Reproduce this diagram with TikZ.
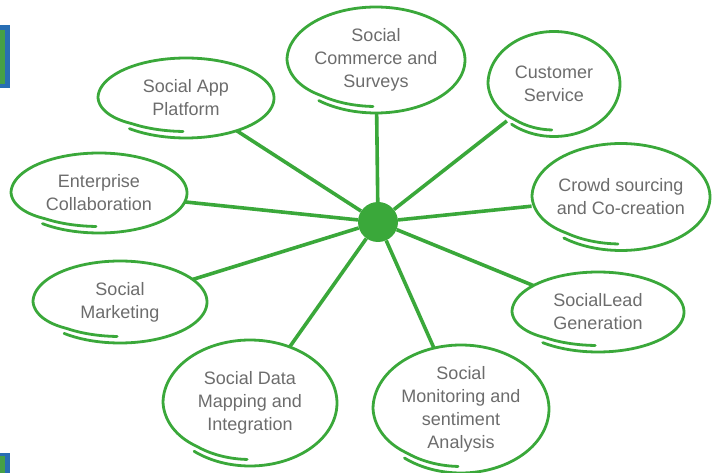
\documentclass[tikz,border=0pt]{standalone}
\usepackage{fontspec}
\setmainfont{Liberation Sans}
\usetikzlibrary{shapes.geometric}
\definecolor{leaf}{RGB}{58,168,58}
\definecolor{inkgray}{RGB}{108,108,108}
\definecolor{edgeblue}{RGB}{40,110,180}
\definecolor{edgegreen}{RGB}{70,160,70}

% hand-drawn ring round a node: #1 node, #2 x radius, #3 y radius
\newcommand\ringat[3]{%
  \draw[ring,shift={(#1.center)}] plot[domain=130:-268,samples=140,variable=\t]
    ({(#2-4*min(1,max(0,(-180-\t)/50)))*cos(\t)},
     {(#3-6.5*min(1,max(0,(-180-\t)/50)))*sin(\t)});}

\begin{document}
\begin{tikzpicture}
  [x=1pt,y=-1pt,
   every node/.style={ellipse,draw=none,inner sep=0pt,align=center,
     text=inkgray,font=\fontsize{18}{23}\selectfont},
   spoke/.style={draw=leaf,line width=3.6pt},
   ring/.style={draw=leaf,line width=2.8pt,line cap=round,line join=round}]
  \useasboundingbox (0,0) rectangle (716,473);

  % cut-off pieces at the left edge
  \fill[edgeblue] (0,25) rectangle (10,88);
  \fill[edgegreen] (0,30) rectangle (5,84);
  \fill[edgeblue] (0,453) rectangle (10,473);
  \fill[edgegreen] (0,456) rectangle (5,473);

  \node[circle,fill=leaf,minimum size=40pt] (hub) at (378,222) {};

  \node[minimum width=176pt,minimum height=80pt]  (app)        at (186,98)  {Social App\\Platform};
  \node[minimum width=178pt,minimum height=106pt] (commerce)   at (376,60)  {Social\\Commerce and\\Surveys};
  \node[minimum width=132pt,minimum height=105pt] (customer)   at (554,84)  {Customer\\Service};
  \node[minimum width=176pt,minimum height=80pt]  (enterprise) at (99,193)  {Enterprise\\Collaboration};
  \node[minimum width=174pt,minimum height=82pt]  (marketing)  at (120,302) {Social\\Marketing};
  \node[minimum width=178pt,minimum height=107pt] (crowd)      at (621,197) {Crowd sourcing\\and Co-creation};
  \node[minimum width=172pt,minimum height=80pt]  (lead)       at (598,312) {SocialLead\\Generation};
  \node[minimum width=174pt,minimum height=126pt] (mapping)    at (250,403) {Social Data\\Mapping and\\Integration};
  \node[minimum width=176pt,minimum height=128pt] (monitoring) at (461,409) {Social\\Monitoring and\\sentiment\\Analysis};

  \foreach \n/\rx/\ry in {app/88/40,commerce/89/53,customer/66/52.5,enterprise/88/40,marketing/87/41,
                          crowd/89/53.5,lead/86/40,mapping/87/63,monitoring/88/64}
    {\ringat{\n}{\rx}{\ry}}

  \foreach \to in {app,commerce,customer,enterprise,marketing,crowd,lead,mapping,monitoring}
    \draw[spoke] (hub) -- (\to);

\end{tikzpicture}
\end{document}
